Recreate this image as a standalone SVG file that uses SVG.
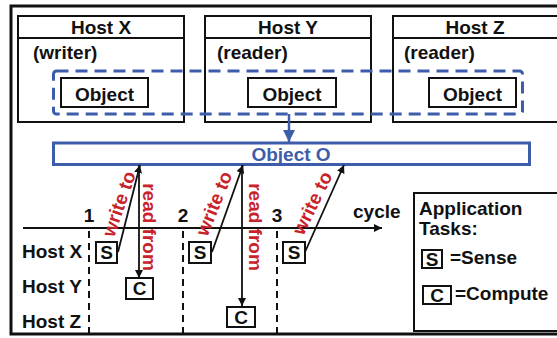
<svg xmlns="http://www.w3.org/2000/svg" width="557" height="338" viewBox="0 0 557 338">
<defs>
<style>
text{font-family:"Liberation Sans",Arial,sans-serif;font-weight:bold;font-size:19px;fill:#111}
.box{fill:#fff;stroke:#111;stroke-width:2}
.ln{stroke:#111;stroke-width:1.8;fill:none}
.dash{stroke:#111;stroke-width:2;stroke-dasharray:7 5;fill:none}
.red{fill:#c8232c}
</style>
<marker id="ah" viewBox="0 0 10 10" refX="10" refY="5" markerWidth="8" markerHeight="8" markerUnits="userSpaceOnUse" orient="auto"><path d="M0,0 L10,5 L0,10 z" fill="#111"/></marker>
<marker id="ahb" viewBox="0 0 10 10" refX="10" refY="5" markerWidth="12" markerHeight="12" markerUnits="userSpaceOnUse" orient="auto"><path d="M0,0 L10,5 L0,10 z" fill="#3d5daa"/></marker>
</defs>
<rect x="11" y="6" width="560" height="328" fill="#fff" stroke="#111" stroke-width="3"/>
<g id="hostX">
<rect class="box" x="18" y="16" width="166" height="106"/>
<line x1="18" y1="38" x2="184" y2="38" stroke="#111" stroke-width="2"/>
<text x="101" y="34" text-anchor="middle">Host X</text>
<text x="33" y="59">(writer)</text>
</g>
<g id="hostY">
<rect class="box" x="205" y="16" width="166" height="106"/>
<line x1="205" y1="38" x2="371" y2="38" stroke="#111" stroke-width="2"/>
<text x="288" y="34" text-anchor="middle">Host Y</text>
<text x="217" y="59">(reader)</text>
</g>
<g id="hostZ">
<rect class="box" x="393" y="16" width="170" height="106"/>
<line x1="393" y1="38" x2="563" y2="38" stroke="#111" stroke-width="2"/>
<text x="475" y="34" text-anchor="middle">Host Z</text>
<text x="404" y="59">(reader)</text>
</g>
<g id="objX"><rect class="box" x="61" y="78" width="87" height="29"/><text x="104.5" y="101" text-anchor="middle">Object</text></g>
<g id="objY"><rect class="box" x="248" y="78" width="88" height="29"/><text x="292" y="101" text-anchor="middle">Object</text></g>
<g id="objZ"><rect class="box" x="429" y="78" width="87" height="29"/><text x="472.5" y="101" text-anchor="middle">Object</text></g>
<g id="sharedGroup"><rect x="53.5" y="71" width="469" height="43" rx="3" fill="none" stroke="#3d5daa" stroke-width="3" stroke-dasharray="12 7"/></g>
<g id="objectO">
<rect x="53.5" y="143" width="476" height="21.5" fill="#fff" stroke="#3d5daa" stroke-width="3"/>
<text x="291" y="161" text-anchor="middle" style="fill:#3d5daa">Object O</text>
</g>
<g id="timeline">
<line class="ln" x1="23" y1="228" x2="382" y2="228" stroke-width="2" marker-end="url(#ah)"/>
<text x="353" y="218">cycle</text>
<text x="89" y="222" text-anchor="middle">1</text>
<text x="183" y="222" text-anchor="middle">2</text>
<text x="277" y="222" text-anchor="middle">3</text>
<line class="dash" x1="89" y1="231" x2="89" y2="333"/>
<line class="dash" x1="183" y1="231" x2="183" y2="333"/>
<line class="dash" x1="277" y1="231" x2="277" y2="333"/>
<text x="22" y="258">Host X</text>
<text x="22" y="293">Host Y</text>
<text x="22" y="328">Host Z</text>
</g>
<g id="tasks">
<g id="s1"><rect class="box" x="96" y="242" width="21" height="21"/><text x="106.5" y="259" text-anchor="middle">S</text></g>
<g id="s2"><rect class="box" x="189" y="242" width="22" height="21"/><text x="200" y="259" text-anchor="middle">S</text></g>
<g id="s3"><rect class="box" x="283" y="242" width="22" height="21"/><text x="294" y="259" text-anchor="middle">S</text></g>
<g id="c1"><rect class="box" x="126" y="278" width="27" height="21"/><text x="139.5" y="295" text-anchor="middle">C</text></g>
<g id="c2"><rect class="box" x="227" y="307" width="28" height="20"/><text x="241" y="324" text-anchor="middle">C</text></g>
</g>
<g id="connectors">
<line x1="289" y1="114" x2="289" y2="142" stroke="#3d5daa" stroke-width="2.5" marker-end="url(#ahb)"/>
<line class="ln" x1="118" y1="252" x2="140" y2="165" marker-end="url(#ah)"/>
<line class="ln" x1="139" y1="165" x2="139" y2="278" marker-end="url(#ah)"/>
<line class="ln" x1="212" y1="252" x2="243" y2="165" marker-end="url(#ah)"/>
<line class="ln" x1="242" y1="165" x2="242" y2="306" marker-end="url(#ah)"/>
<line class="ln" x1="305" y1="252" x2="344" y2="165" marker-end="url(#ah)"/>
<text class="red" transform="translate(125,206) rotate(-71)" text-anchor="middle">write to</text>
<text class="red" transform="translate(143,227) rotate(90)" text-anchor="middle">read from</text>
<text class="red" transform="translate(220,206) rotate(-68)" text-anchor="middle">write to</text>
<text class="red" transform="translate(249,227) rotate(90)" text-anchor="middle">read from</text>
<text class="red" transform="translate(318,206) rotate(-64)" text-anchor="middle">write to</text>
</g>
<g id="legend">
<rect class="box" x="414" y="193" width="150" height="138"/>
<text x="419" y="215">Application</text>
<text x="419" y="235">Tasks:</text>
<rect class="box" x="422" y="250" width="20" height="18"/><text x="432" y="265.5" text-anchor="middle">S</text>
<text x="450" y="264">=Sense</text>
<rect class="box" x="423" y="286" width="28" height="18"/><text x="437" y="301.5" text-anchor="middle">C</text>
<text x="455" y="300">=Compute</text>
</g>
</svg>
